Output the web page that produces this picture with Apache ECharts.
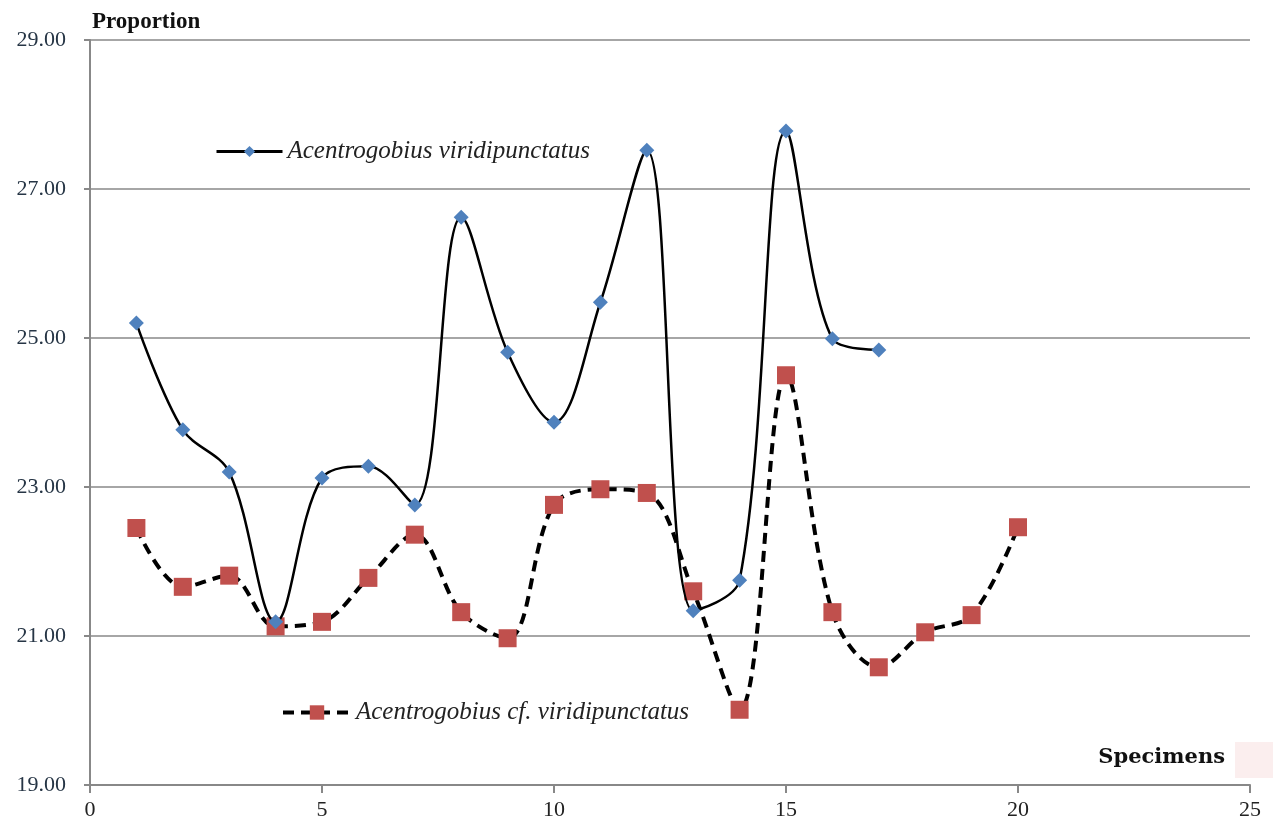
<!DOCTYPE html>
<html>
<head>
<meta charset="utf-8">
<script src="https://cdn.jsdelivr.net/npm/echarts@6/dist/echarts.min.js"></script>
<style>
  html, body { margin: 0; padding: 0; background: #fff; }
  #chart { width: 1277px; height: 828px; }
</style>
</head>
<body>
<div id="chart"></div>
<script>
// specimen numbers
var specimensA = [1, 2, 3, 4, 5, 6, 7, 8, 9, 10, 11, 12, 13, 14, 15, 16, 17];
var specimensB = [1, 2, 3, 4, 5, 6, 7, 8, 9, 10, 11, 12, 13, 14, 15, 16, 17, 18, 19, 20];
// Acentrogobius viridipunctatus
var valuesA = [25.20, 23.77, 23.20, 21.19, 23.12, 23.28, 22.76, 26.62, 24.81, 23.87,
  25.48, 27.52, 21.34, 21.75, 27.78, 24.99, 24.84];
// Acentrogobius cf. viridipunctatus
var valuesB = [22.45, 21.66, 21.81, 21.13, 21.19, 21.78, 22.36, 21.32, 20.97, 22.76,
  22.97, 22.92, 21.60, 20.01, 24.50, 21.32, 20.58, 21.05, 21.28, 22.46];

var nameA = 'Acentrogobius viridipunctatus';
var nameB = 'Acentrogobius cf. viridipunctatus';

var myChart = echarts.init(document.getElementById('chart'));

function pairs(xs, ys) {
  return xs.map(function (x, i) { return [x, ys[i]]; });
}

var legendText = { fontFamily: 'Liberation Serif', fontStyle: 'italic', fontSize: 25, color: '#222' };

var options = {
  animation: false,
  textStyle: { fontFamily: 'Liberation Serif' },
  grid: { left: 90, right: 27, top: 40, bottom: 43, containLabel: false },
  legend: [
    {
      data: [nameA],
      left: 210, top: 134,
      itemWidth: 66, itemHeight: 14, itemGap: 8,
      lineStyle: { width: 3 },
      textStyle: legendText
    },
    {
      data: [nameB],
      left: 276, top: 695,
      itemWidth: 68, itemHeight: 18,
      lineStyle: { width: 4 },
      textStyle: legendText
    }
  ],
  xAxis: {
    type: 'value',
    min: 0, max: 25, interval: 5,
    axisLine: { show: true, lineStyle: { color: '#888', width: 2 } },
    axisTick: { show: true, length: 8, lineStyle: { color: '#888', width: 2 } },
    axisLabel: { fontSize: 22, color: '#222', margin: 14 },
    splitLine: { show: false }
  },
  yAxis: {
    type: 'value',
    min: 19, max: 29, interval: 2,
    axisLine: { show: true, lineStyle: { color: '#888', width: 2 } },
    axisTick: { show: true, length: 6, lineStyle: { color: '#888', width: 2 } },
    axisLabel: {
      fontSize: 22, color: '#263545', margin: 24,
      formatter: function (v) { return v.toFixed(2); }
    },
    splitLine: { show: true, lineStyle: { color: '#888', width: 1.5 } }
  },
  graphic: [
    {
      type: 'text', left: 92, top: 11,
      style: { text: 'Proportion', font: 'bold 23px "Liberation Serif"', fill: '#111' }
    },
    {
      type: 'text', right: 52, top: 747,
      style: { text: 'Specimens', font: 'bold 21px "DejaVu Serif"', fill: '#111' }
    },
    {
      type: 'rect', shape: { x: 1235, y: 742, width: 38, height: 36 },
      style: { fill: '#fbeeee' }
    }
  ],
  series: [
    {
      name: nameA,
      type: 'line',
      smooth: 0.35,
      data: pairs(specimensA, valuesA),
      symbol: 'diamond',
      symbolSize: 15,
      itemStyle: { color: '#4f81bd' },
      lineStyle: { color: '#000', width: 2.5 },
      z: 3
    },
    {
      name: nameB,
      type: 'line',
      smooth: 0.35,
      data: pairs(specimensB, valuesB),
      symbol: 'rect',
      symbolSize: 18,
      itemStyle: { color: '#c0504d' },
      lineStyle: { color: '#000', width: 4, type: [11, 7] },
      z: 2
    }
  ]
};

myChart.setOption(options);
</script>
</body>
</html>
